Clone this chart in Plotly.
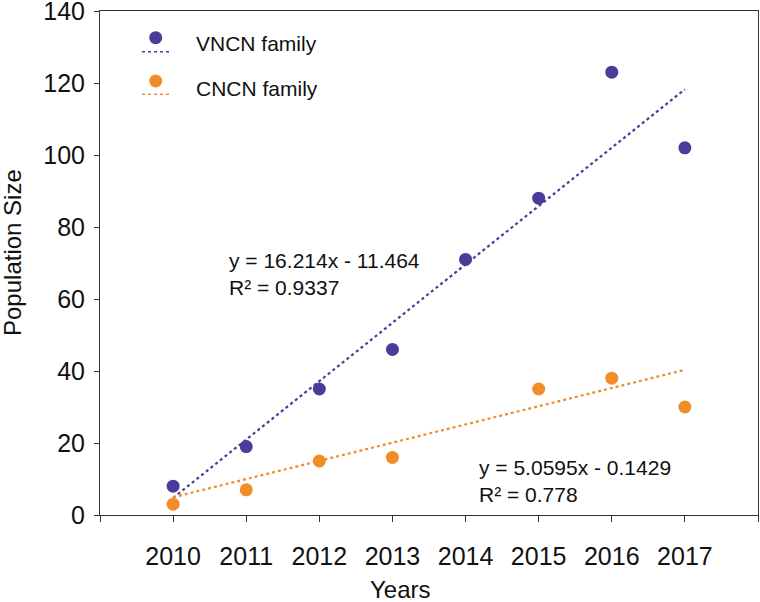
import plotly.graph_objects as go

years = [2010, 2011, 2012, 2013, 2014, 2015, 2016, 2017]
vncn = [8, 19, 35, 46, 71, 88, 123, 102]
cncn = [3, 7, 15, 16, None, 35, 38, 30]
vncn_fit = (16.214, -11.464, 0.9337)
cncn_fit = (5.0595, -0.1429, 0.778)
series_names = ["VNCN family", "CNCN family"]
x_tick_vals = [2009, 2010, 2011, 2012, 2013, 2014, 2015, 2016, 2017, 2018]
x_tick_text = ["", "2010", "2011", "2012", "2013", "2014", "2015", "2016", "2017", ""]
y_tick_vals = [0, 20, 40, 60, 80, 100, 120, 140]
x_title = "Years"
y_title = "Population Size"

PURPLE = "#483D98"
ORANGE = "#F08D29"
FONT = "Liberation Sans, Arial, sans-serif"
TXT = "#111111"

def trend(fit):
    xs = [years[0], years[-1]]
    ys = [fit[0] * (x - years[0] + 1) + fit[1] for x in xs]
    return xs, ys

fig = go.Figure()
for vals, fit, col, name in [(vncn, vncn_fit, PURPLE, series_names[0]),
                             (cncn, cncn_fit, ORANGE, series_names[1])]:
    tx, ty = trend(fit)
    fig.add_trace(go.Scatter(x=tx, y=ty, mode="lines",
                             line=dict(color=col, width=2.2, dash="dot"),
                             showlegend=False, hoverinfo="skip"))
    fig.add_trace(go.Scatter(x=years, y=vals, mode="markers", name=name,
                             marker=dict(color=col, size=13), showlegend=False))

# plot area in pixels: x 100..758, y 11..515
L, R, T, B = 100, 758, 11, 515
def px(x):
    return (x - L) / (R - L)
def py(y):
    return (B - y) / (B - T)

shapes = []
annotations = []
for name, col, dot_y, line_y, text_y in [(series_names[0], PURPLE, 37.7, 51.7, 43.3),
                                         (series_names[1], ORANGE, 81, 94.3, 88.3)]:
    shapes.append(dict(type="circle", xref="paper", yref="paper",
                       xsizemode="pixel", ysizemode="pixel",
                       xanchor=px(155.7), yanchor=py(dot_y),
                       x0=-6.5, x1=6.5, y0=-6.5, y1=6.5,
                       fillcolor=col, line=dict(width=0)))
    shapes.append(dict(type="line", xref="paper", yref="paper",
                       x0=px(142), x1=px(170), y0=py(line_y), y1=py(line_y),
                       line=dict(color=col, width=1.5, dash="dot")))
    annotations.append(dict(text=name, xref="paper", yref="paper",
                            x=px(194), y=py(text_y), xanchor="left", yanchor="middle",
                            showarrow=False, font=dict(family=FONT, size=21, color=TXT)))

def eq_text(fit):
    sign = "-" if fit[1] < 0 else "+"
    return f"y = {fit[0]}x {sign} {abs(fit[1])}<br>R² = {fit[2]}"

annotations.append(dict(text=eq_text(vncn_fit), xref="paper", yref="paper",
                        x=px(227), y=py(274), xanchor="left", yanchor="middle", align="left",
                        showarrow=False, font=dict(family=FONT, size=21, color=TXT)))
annotations.append(dict(text=eq_text(cncn_fit), xref="paper", yref="paper",
                        x=px(477), y=py(481), xanchor="left", yanchor="middle", align="left",
                        showarrow=False, font=dict(family=FONT, size=21, color=TXT)))
# axis titles
annotations.append(dict(text=x_title, xref="paper", yref="paper",
                        x=px(400), y=py(589), xanchor="center", yanchor="middle",
                        showarrow=False, font=dict(family=FONT, size=24, color=TXT)))
annotations.append(dict(text=y_title, xref="paper", yref="paper", textangle=-90,
                        x=px(13), y=py(253), xanchor="center", yanchor="middle",
                        showarrow=False, font=dict(family=FONT, size=24, color=TXT)))

fig.update_layout(
    width=760, height=602,
    margin=dict(l=L, r=760 - R, t=T, b=602 - B, autoexpand=False),
    paper_bgcolor="white", plot_bgcolor="white",
    font=dict(family=FONT, color=TXT),
    shapes=shapes, annotations=annotations,
    showlegend=False,
)
fig.update_xaxes(range=[2009, 2018], tickvals=x_tick_vals, ticktext=x_tick_text,
                 automargin=False,
                 showgrid=False, zeroline=False, showline=True, linecolor="#333",
                 linewidth=1, mirror=True, ticks="outside", ticklen=6, tickcolor="#333",
                 tickfont=dict(size=25), ticklabelstandoff=13)
fig.update_yaxes(range=[0, 140], tickvals=y_tick_vals,
                 automargin=False, ticklabeloverflow="allow",
                 showgrid=False, zeroline=False, showline=True, linecolor="#333",
                 linewidth=1, mirror=True, ticks="outside", ticklen=5, tickcolor="#333",
                 tickfont=dict(size=25), ticklabelstandoff=4)

fig.write_html("out.html", config={"displayModeBar": False},
               post_script="document.body.style.margin='0';document.body.style.overflow='hidden';")
